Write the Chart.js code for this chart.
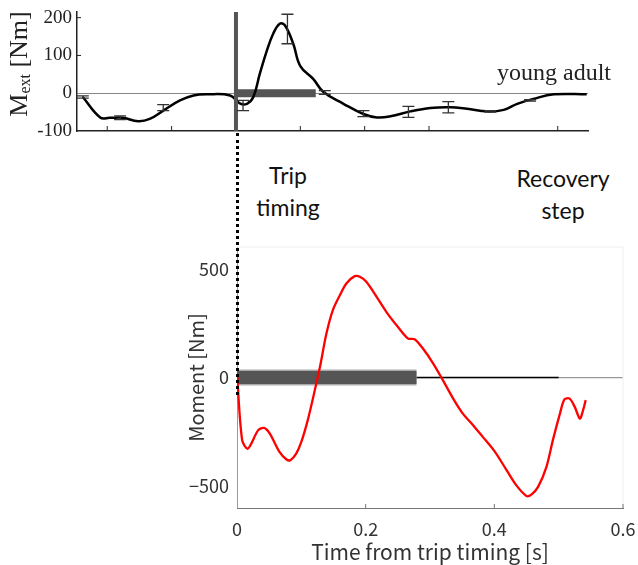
<!DOCTYPE html>
<html>
<head>
<meta charset="utf-8">
<script src="https://cdn.jsdelivr.net/npm/chart.js@4"></script>
<style>
  body { margin: 0; background: #fff; width: 638px; height: 565px; position: relative; overflow: hidden; }
  #topChart { position: absolute; left: 0; top: 0; }
  #bottomChart { position: absolute; left: 180px; top: 240px; }
  .note { position: absolute; font-family: Lato, 'Open Sans', sans-serif; font-size: 23px; color: #111; text-align: center; line-height: 32px; }
  #young { position: absolute; left: 497px; top: 59px; font-family: 'Liberation Serif', serif; font-size: 24px; color: #222; }
  #dots { position: absolute; width: 0; border-left: 3px dotted #000; }
</style>
</head>
<body>
<canvas id="topChart" width="620" height="150"></canvas>
<canvas id="bottomChart" width="458" height="325"></canvas>
<div id="dots"></div>
<div class="note" style="left:243px;top:159px;width:90px">Trip<br>timing</div>
<div class="note" style="left:508px;top:162px;width:110px">Recovery<br>step</div>
<div id="young">young adult</div>
<script>
// Dati: curva media giovane adulto (in alto)
const youngTime = [-0.238, -0.211, -0.196, -0.176, -0.152, -0.134, -0.113, -0.087, -0.066, -0.046, -0.009, 0.006, 0.017, 0.027, 0.037, 0.048, 0.058, 0.068, 0.076, 0.089, 0.100, 0.120, 0.136, 0.167, 0.198, 0.219, 0.240, 0.271, 0.302, 0.333, 0.359, 0.390, 0.416, 0.437, 0.462, 0.494, 0.545];
const youngMoment = [-10, -64, -65, -65, -74, -68, -46, -19, -6, -3, -6, -27, -28, -10, 51, 113, 158, 184, 180, 131, 72, 38, 3, -28, -55, -64, -61, -48, -39, -37, -41, -48, -44, -28, -15, -3, -3];

// Barre di errore (in alto)
const errTime = [-0.238, -0.180, -0.113, 0.011, 0.080, 0.138, 0.198, 0.268, 0.330, 0.395, 0.457];
const errLow = [-13, -70, -46, -46, 131, -3, -62, -64, -52, -50, -21];
const errHigh = [-7, -60, -30, -19, 209, 7, -46, -35, -22, -46, -17];

// Dati: momento dopo l'inciampo (in basso)
const tripTime = [0, 0.008, 0.017, 0.033, 0.042, 0.051, 0.066, 0.077, 0.083, 0.092, 0.100, 0.110, 0.121, 0.129, 0.139, 0.149, 0.160, 0.170, 0.183, 0.191, 0.201, 0.217, 0.232, 0.250, 0.266, 0.276, 0.289, 0.305, 0.320, 0.336, 0.351, 0.367, 0.382, 0.401, 0.419, 0.434, 0.450, 0.458, 0.468, 0.481, 0.491, 0.502, 0.509, 0.517, 0.525, 0.533, 0.538, 0.542];
const tripMoment = [20, -288, -327, -242, -232, -258, -342, -377, -380, -350, -296, -196, -58, 49, 202, 310, 379, 432, 466, 463, 440, 371, 302, 233, 179, 176, 133, 64, -12, -97, -166, -219, -273, -342, -426, -495, -545, -537, -503, -411, -288, -166, -101, -97, -135, -189, -150, -104];

// Fasi e tick
const topBar = [0, 0.124];
const bottomBar = [0, 0.279];
const blackZero = [0.279, 0.5];
const topYTicks = [-100, 0, 100, 200];
const topXTicks = [-0.2, -0.1, 0.1, 0.2, 0.3, 0.5];
const bottomYTicks = [-500, 0, 500];
const bottomXTicks = [0, 0.2, 0.4, 0.6];

const pts = (xs, ys) => xs.map((x, i) => ({ x, y: ys[i] }));
const flat = xs => xs.map(x => ({ x, y: 0 }));

// Elementi extra grafico in alto
const topExtras = {
  id: 'topExtras',
  afterDatasetsDraw(chart) {
    const { ctx, chartArea, scales: { x, y } } = chart;
    ctx.save();
    // linea verticale del momento di inciampo
    ctx.strokeStyle = '#555';
    ctx.lineWidth = 4;
    ctx.beginPath();
    ctx.moveTo(x.getPixelForValue(0), chartArea.top);
    ctx.lineTo(x.getPixelForValue(0), chartArea.bottom);
    ctx.stroke();
    // barre di errore
    ctx.strokeStyle = '#333';
    ctx.lineWidth = 1.3;
    errTime.forEach((t, i) => {
      const px = x.getPixelForValue(t);
      const y1 = y.getPixelForValue(errLow[i]);
      const y2 = y.getPixelForValue(errHigh[i]);
      ctx.beginPath();
      ctx.moveTo(px, y1); ctx.lineTo(px, y2);
      ctx.moveTo(px - 6, y1); ctx.lineTo(px + 6, y1);
      ctx.moveTo(px - 6, y2); ctx.lineTo(px + 6, y2);
      ctx.stroke();
    });
    // tick interni
    ctx.strokeStyle = '#222';
    ctx.lineWidth = 1;
    topXTicks.forEach(t => {
      const px = x.getPixelForValue(t);
      ctx.beginPath();
      ctx.moveTo(px, chartArea.bottom); ctx.lineTo(px, chartArea.bottom - 5);
      ctx.stroke();
    });
    [100, 200].forEach(v => {
      const py = y.getPixelForValue(v);
      ctx.beginPath();
      ctx.moveTo(chartArea.left, py); ctx.lineTo(chartArea.left + 4, py);
      ctx.stroke();
    });
    // titolo asse y con pedice
    ctx.translate(20, 64);
    ctx.rotate(-Math.PI / 2);
    ctx.fillStyle = '#222';
    ctx.textBaseline = 'middle';
    const big = '26px "Liberation Serif"', small = '16px "Liberation Serif"';
    ctx.font = big; const wM = ctx.measureText('M').width; const wN = ctx.measureText(' [Nm]').width;
    ctx.font = small; const wE = ctx.measureText('ext').width;
    let cx = -(wM + wE + wN) / 2;
    ctx.font = big; ctx.fillText('M', cx, 0); cx += wM;
    ctx.font = small; ctx.fillText('ext', cx, 6); cx += wE;
    ctx.font = big; ctx.fillText(' [Nm]', cx, 0);
    ctx.restore();
  }
};

// Elementi extra grafico in basso
const bottomExtras = {
  id: 'bottomExtras',
  beforeDatasetsDraw(chart) {
    const { ctx, chartArea } = chart;
    ctx.save();
    ctx.strokeStyle = '#eee';
    ctx.lineWidth = 1;
    ctx.beginPath();
    ctx.moveTo(chartArea.left, chartArea.top);
    ctx.lineTo(chartArea.right, chartArea.top);
    ctx.lineTo(chartArea.right, chartArea.bottom);
    ctx.stroke();
    ctx.restore();
  },
  afterDraw(chart) {
    const { ctx, chartArea, scales: { x } } = chart;
    ctx.save();
    ctx.strokeStyle = '#777';
    ctx.lineWidth = 1;
    bottomXTicks.slice(1).forEach(t => {
      const px = x.getPixelForValue(t);
      ctx.beginPath();
      ctx.moveTo(px, chartArea.bottom); ctx.lineTo(px, chartArea.bottom - 4);
      ctx.stroke();
    });
    ctx.restore();
  }
};

const noPad = s => { s.paddingTop = 0; s.paddingBottom = 0; s.paddingLeft = 0; s.paddingRight = 0; };

const topChart = new Chart(document.getElementById('topChart'), {
  type: 'line',
  data: {
    datasets: [
      { data: pts(youngTime, youngMoment), borderColor: '#000', borderWidth: 2.5, tension: 0.4, pointRadius: 0, order: 0 },
      { data: flat(topBar), borderColor: '#555', borderWidth: 8, borderCapStyle: 'butt', pointRadius: 0, order: 1 }
    ]
  },
  options: {
    responsive: false,
    animation: false,
    events: [],
    layout: { padding: { top: 12, right: 32, left: 0, bottom: 0 } },
    plugins: { legend: { display: false }, tooltip: { enabled: false } },
    scales: {
      x: {
        type: 'linear', min: -0.247, max: 0.547,
        ticks: { display: false },
        grid: { display: false, drawTicks: false },
        border: { color: '#222', width: 1.5 },
        afterFit: s => { s.height = 19; noPad(s); }
      },
      y: {
        min: -100, max: 215,
        afterBuildTicks: s => { s.ticks = topYTicks.map(v => ({ value: v })); },
        ticks: { font: { family: '"Liberation Serif"', size: 19 }, color: '#222', padding: 5 },
        grid: { drawTicks: false, color: c => c.tick && c.tick.value === 0 ? '#888' : 'rgba(0,0,0,0)', lineWidth: 1 },
        border: { color: '#222', width: 1.5 },
        afterFit: s => { s.width = 77; noPad(s); }
      }
    }
  },
  plugins: [topExtras]
});

const bottomChart = new Chart(document.getElementById('bottomChart'), {
  type: 'line',
  data: {
    datasets: [
      { data: pts(tripTime, tripMoment), borderColor: '#ff0000', borderWidth: 2.3, tension: 0.3, pointRadius: 0, order: 0 },
      { data: flat(bottomBar), borderColor: '#555', borderWidth: 13, borderCapStyle: 'butt', pointRadius: 0, order: 1 },
      { data: flat(bottomBar), borderColor: '#aaa', borderWidth: 16, borderCapStyle: 'butt', pointRadius: 0, order: 2 },
      { data: flat(blackZero), borderColor: '#000', borderWidth: 1.3, pointRadius: 0, order: 3 }
    ]
  },
  options: {
    responsive: false,
    animation: false,
    events: [],
    layout: { padding: { top: 7, right: 15, left: 0, bottom: 0 } },
    plugins: { legend: { display: false }, tooltip: { enabled: false } },
    scales: {
      x: {
        type: 'linear', min: 0, max: 0.6,
        afterBuildTicks: s => { s.ticks = bottomXTicks.map(v => ({ value: v })); },
        ticks: { font: { family: '"Noto Sans CJK JP"', size: 18 }, color: '#333', padding: 10, maxRotation: 0 },
        grid: { display: false, drawTicks: false },
        border: { color: '#777', width: 1 },
        title: { display: true, text: 'Time from trip timing [s]', font: { family: '"Noto Sans CJK JP"', size: 21 }, color: '#333', padding: { top: 0, bottom: 0 } },
        afterFit: s => { s.height = 57; noPad(s); }
      },
      y: {
        min: -600, max: 600,
        afterBuildTicks: s => { s.ticks = bottomYTicks.map(v => ({ value: v })); },
        ticks: { font: { family: '"Noto Sans CJK JP"', size: 18 }, color: '#333', padding: 8, callback: v => String(v).replace('-', '\u2212') },
        grid: { drawTicks: false, color: c => c.tick && c.tick.value === 0 ? '#999' : 'rgba(0,0,0,0)', lineWidth: 1.2 },
        border: { color: '#999', width: 1 },
        title: { display: true, text: 'Moment [Nm]', font: { family: '"Noto Sans CJK JP"', size: 20 }, color: '#333', padding: { top: 4, bottom: 0 } },
        afterFit: s => { s.width = 57; noPad(s); }
      }
    }
  },
  plugins: [bottomExtras]
});

// Linea tratteggiata che collega i due grafici
const dots = document.getElementById('dots');
const dotX = 180 + bottomChart.scales.x.getPixelForValue(0);
const dotTop = topChart.chartArea.bottom + 2;
const dotBottom = 240 + bottomChart.scales.y.getPixelForValue(-80);
dots.style.left = (dotX - 1.5) + 'px';
dots.style.top = dotTop + 'px';
dots.style.height = (dotBottom - dotTop) + 'px';
</script>
</body>
</html>
